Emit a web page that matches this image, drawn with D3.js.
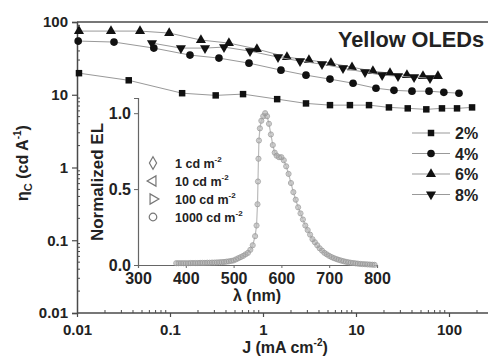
<!DOCTYPE html>
<html>
<head>
<meta charset="utf-8">
<script src="https://cdn.jsdelivr.net/npm/d3@7"></script>
<style>
  body { margin: 0; background: #fff; }
  text { font-family: "Liberation Sans", Arial, sans-serif; font-weight: bold; fill: #222; }
</style>
</head>
<body>
<svg id="chart" width="488" height="356"></svg>
<script>
// current efficiency vs current density, four doping levels
const j2 = [0.0105, 0.036, 0.135, 0.31, 0.61, 1.42, 2.9, 5.25, 8.6, 13.8, 22.6, 36, 57, 84, 122, 177];
const eta2 = [19.8, 15.8, 10.5, 9.8, 10.2, 8.7, 7.6, 7.2, 7.2, 7.2, 6.7, 6.5, 6.3, 6.5, 6.5, 6.7];

const j4 = [0.0103, 0.025, 0.067, 0.164, 0.336, 0.707, 1.56, 2.9, 5.25, 9.3, 16.4, 25.6, 40, 61, 88, 128];
const eta4 = [54.7, 53, 43.8, 35.1, 31.9, 27.2, 21.8, 18.6, 16.4, 14.4, 12.3, 11.5, 11.2, 11.2, 10.8, 10.5];

const j6 = [0.0105, 0.0232, 0.0476, 0.098, 0.215, 0.43, 0.86, 1.81, 3.12, 5.38, 9.06, 15.2, 23.2, 35.3, 52.5, 76];
const eta6 = [75, 75, 75, 70.5, 56.5, 51.3, 42.5, 32.9, 29.9, 27.2, 23.9, 21.1, 19.8, 18.6, 18, 18];

const j8 = [0.064, 0.131, 0.238, 0.381, 0.725, 1.45, 2.5, 4.31, 7.25, 12.5, 19.1, 28.3, 42.1, 62.5];
const eta8 = [51.3, 43.8, 43.8, 45.2, 39.8, 32.9, 29, 26.3, 23.2, 20.4, 18.6, 18, 17.4, 16.9];

const seriesLabels = ["2%", "4%", "6%", "8%"];
const yTicks = [0.01, 0.1, 1, 10, 100];
const xTicks = [0.01, 0.1, 1, 10, 100];

// inset: normalized EL spectrum (same shape at every luminance)
const wavelength = [380, 385, 390, 395, 400, 405, 410, 415, 420, 425, 430, 435, 440, 445, 450, 455, 460, 465, 470, 475,
  480, 485, 490, 495, 500, 505, 510, 515, 520, 525, 530, 535, 540, 545, 548, 550, 551, 552, 553, 555, 558, 562, 566,
  570, 574, 578, 582, 586, 590, 595, 600, 605, 610, 615, 620, 625, 630, 635, 640, 645, 650, 655, 660, 665, 670, 675,
  680, 685, 690, 695, 700, 705, 710, 715, 720, 725, 730, 735, 740, 745, 750, 755, 760, 765, 770, 775, 780, 785, 790, 795];
const elNorm = [0.012, 0.012, 0.012, 0.012, 0.012, 0.012, 0.013, 0.013, 0.013, 0.013, 0.014, 0.014, 0.014, 0.015, 0.015,
  0.016, 0.016, 0.017, 0.018, 0.019, 0.02, 0.022, 0.024, 0.027, 0.03, 0.037, 0.045, 0.052, 0.06, 0.07, 0.08, 0.1, 0.13,
  0.19, 0.26, 0.4, 0.55, 0.7, 0.82, 0.9, 0.95, 0.98, 1.0, 0.98, 0.93, 0.86, 0.79, 0.74, 0.72, 0.71, 0.71, 0.69, 0.65,
  0.6, 0.54, 0.48, 0.43, 0.38, 0.34, 0.3, 0.26, 0.23, 0.2, 0.17, 0.15, 0.13, 0.11, 0.095, 0.08, 0.07, 0.06, 0.052,
  0.045, 0.039, 0.034, 0.029, 0.025, 0.021, 0.018, 0.015, 0.013, 0.011, 0.009, 0.007, 0.006, 0.005, 0.004, 0.003,
  0.002, 0.001];
const insetLabels = ["1 cd m", "10 cd m", "100 cd m", "1000 cd m"];
const insetXTicks = [300, 400, 500, 600, 700, 800];
const insetYTicks = [0, 0.5, 1];

const svg = d3.select("#chart");
const axisColor = "#4a4a4a";

const x = d3.scaleLog().domain([0.01, 1000]).range([77, 542]);
const y = d3.scaleLog().domain([0.01, 100]).range([313, 22]);

// frame: top line
svg.append("line")
    .attr("x1", x(0.01)).attr("x2", 488)
    .attr("y1", y(100)).attr("y2", y(100))
    .attr("stroke", "#777").attr("stroke-width", 2);

// minor ticks
const minorX = x.ticks(50).filter(v => !xTicks.includes(v) && x(v) < 488);
const minorY = y.ticks(50).filter(v => !yTicks.includes(v));

svg.append("g").selectAll("line").data(minorX).join("line")
    .attr("x1", d => x(d)).attr("x2", d => x(d))
    .attr("y1", y(0.01) - 3).attr("y2", y(0.01))
    .attr("stroke", axisColor).attr("stroke-width", 1);

svg.append("g").selectAll("line").data(minorY).join("line")
    .attr("x1", x(0.01)).attr("x2", x(0.01) + 3)
    .attr("y1", d => y(d)).attr("y2", d => y(d))
    .attr("stroke", axisColor).attr("stroke-width", 1);

// main axes
const xAxis = svg.append("g")
    .attr("transform", `translate(0, ${y(0.01)})`)
    .call(d3.axisBottom(x).tickValues(xTicks).tickFormat(d => String(d)).tickSize(4).tickPadding(7));
xAxis.select(".domain").attr("d", `M${x(0.01)},0H488`);

const yAxis = svg.append("g")
    .attr("transform", `translate(${x(0.01)}, 0)`)
    .call(d3.axisLeft(y).tickValues(yTicks).tickFormat(d => String(d)).tickSize(5).tickPadding(4));

[xAxis, yAxis].forEach(a => {
    a.select(".domain").attr("stroke", axisColor).attr("stroke-width", 1.5);
    a.selectAll(".tick line").attr("stroke", axisColor).attr("stroke-width", 1.2);
    a.selectAll(".tick text").attr("font-size", "15px").attr("fill", "#222")
        .style("font-family", "'Liberation Sans', Arial, sans-serif").style("font-weight", "bold");
});

// axis titles
const xTitle = svg.append("text")
    .attr("x", 285).attr("y", 353)
    .attr("text-anchor", "middle")
    .attr("font-size", "16px");
xTitle.append("tspan").text("J (mA cm");
xTitle.append("tspan").attr("font-size", "10px").attr("dy", -7).text("-2");
xTitle.append("tspan").attr("dy", 7).text(")");

const yTitle = svg.append("text")
    .attr("transform", "translate(28, 163) rotate(-90)")
    .attr("text-anchor", "middle")
    .attr("font-size", "16px");
yTitle.append("tspan").text("η");
yTitle.append("tspan").attr("font-size", "11px").attr("dy", 4).text("C");
yTitle.append("tspan").attr("dy", -4).text(" (cd A");
yTitle.append("tspan").attr("font-size", "10px").attr("dy", -7).text("-1");
yTitle.append("tspan").attr("dy", 7).text(")");

svg.append("text")
    .attr("x", 338).attr("y", 47)
    .attr("font-size", "22px")
    .attr("textLength", 146)
    .attr("lengthAdjust", "spacingAndGlyphs")
    .text("Yellow OLEDs");

// ---- inset ----
const ix = d3.scaleLinear().domain([300, 800]).range([138, 377]);
const iy = d3.scaleLinear().domain([0, 1.1]).range([265, 98]);

const ixAxis = svg.append("g")
    .attr("transform", `translate(0, ${iy(0)})`)
    .call(d3.axisBottom(ix).tickValues(insetXTicks).tickSize(3).tickPadding(4));
const iyAxis = svg.append("g")
    .attr("transform", `translate(${ix(300)}, 0)`)
    .call(d3.axisLeft(iy).tickValues(insetYTicks).tickFormat(d3.format(".1f")).tickSize(4).tickPadding(3));

[ixAxis, iyAxis].forEach(a => {
    a.select(".domain").attr("stroke", "#666").attr("stroke-width", 1.2);
    a.selectAll(".tick line").attr("stroke", "#666");
    a.selectAll(".tick text").attr("font-size", "16px").attr("fill", "#222")
        .style("font-family", "'Liberation Sans', Arial, sans-serif").style("font-weight", "bold");
});
ixAxis.selectAll(".tick text").attr("dy", "0.75em");

svg.append("text")
    .attr("x", 257).attr("y", 301)
    .attr("text-anchor", "middle")
    .attr("font-size", "16px")
    .text("λ (nm)");

svg.append("text")
    .attr("transform", "translate(103, 182) rotate(-90)")
    .attr("text-anchor", "middle")
    .attr("font-size", "17px")
    .text("Normalized EL");

const spectrum = wavelength.map((w, i) => ({ w: w, v: elNorm[i] }));

svg.append("path")
    .datum(spectrum)
    .attr("fill", "none")
    .attr("stroke", "#bbb")
    .attr("stroke-width", 1.2)
    .attr("d", d3.line().x(d => ix(d.w)).y(d => iy(d.v)));

const insetSymbols = [
    { type: d3.symbolDiamond, rot: 0 },
    { type: d3.symbolTriangle, rot: -90 },
    { type: d3.symbolTriangle, rot: 90 },
    { type: d3.symbolCircle, rot: 0 }
];

insetSymbols.forEach((s, k) => {
    svg.append("g").selectAll("path")
        .data(spectrum)
        .join("path")
        .attr("d", d3.symbol().type(s.type).size(k === 3 ? 21 : 7))
        .attr("transform", d => `translate(${ix(d.w)}, ${iy(d.v)}) rotate(${s.rot})`)
        .attr("fill", "none")
        .attr("stroke", k === 3 ? "#999" : "#bbb")
        .attr("stroke-width", k === 3 ? 0.8 : 0.5);
});

// inset legend
insetLabels.forEach((lab, i) => {
    const ly = 163 + i * 18;
    svg.append("path")
        .attr("d", d3.symbol().type(insetSymbols[i].type).size(45))
        .attr("transform", `translate(153, ${ly}) rotate(${insetSymbols[i].rot})`)
        .attr("fill", "none")
        .attr("stroke", "#777")
        .attr("stroke-width", 1.2);
    const t = svg.append("text")
        .attr("x", 175).attr("y", ly + 4.5)
        .attr("font-size", "12.5px");
    t.append("tspan").text(lab);
    t.append("tspan").attr("font-size", "8px").attr("dy", -6).text("-2");
});

// ---- main series ----
const series = [
    { label: seriesLabels[0], j: j2, eta: eta2, sym: d3.symbolSquare, size: 42, rot: 0 },
    { label: seriesLabels[1], j: j4, eta: eta4, sym: d3.symbolCircle, size: 46, rot: 0 },
    { label: seriesLabels[2], j: j6, eta: eta6, sym: d3.symbolTriangle, size: 44, rot: 0 },
    { label: seriesLabels[3], j: j8, eta: eta8, sym: d3.symbolTriangle, size: 44, rot: 180 }
];

series.forEach(s => {
    const pts = s.j.map((v, i) => ({ j: v, eta: s.eta[i] }));
    svg.append("path")
        .datum(pts)
        .attr("fill", "none")
        .attr("stroke", "#999")
        .attr("stroke-width", 1)
        .attr("d", d3.line().x(d => x(d.j)).y(d => y(d.eta)));
    svg.append("g").selectAll("path")
        .data(pts)
        .join("path")
        .attr("d", d3.symbol().type(s.sym).size(s.size))
        .attr("transform", d => `translate(${x(d.j)}, ${y(d.eta)}) rotate(${s.rot})`)
        .attr("fill", "#111");
});

// legend
series.forEach((s, i) => {
    const ly = 133 + i * 20.5;
    svg.append("line")
        .attr("x1", 412).attr("x2", 450)
        .attr("y1", ly).attr("y2", ly)
        .attr("stroke", "#999").attr("stroke-width", 1);
    svg.append("path")
        .attr("d", d3.symbol().type(s.sym).size(s.size))
        .attr("transform", `translate(431, ${ly}) rotate(${s.rot})`)
        .attr("fill", "#111");
    svg.append("text")
        .attr("x", 455).attr("y", ly + 6)
        .attr("font-size", "16px")
        .text(s.label);
});
</script>
</body>
</html>
